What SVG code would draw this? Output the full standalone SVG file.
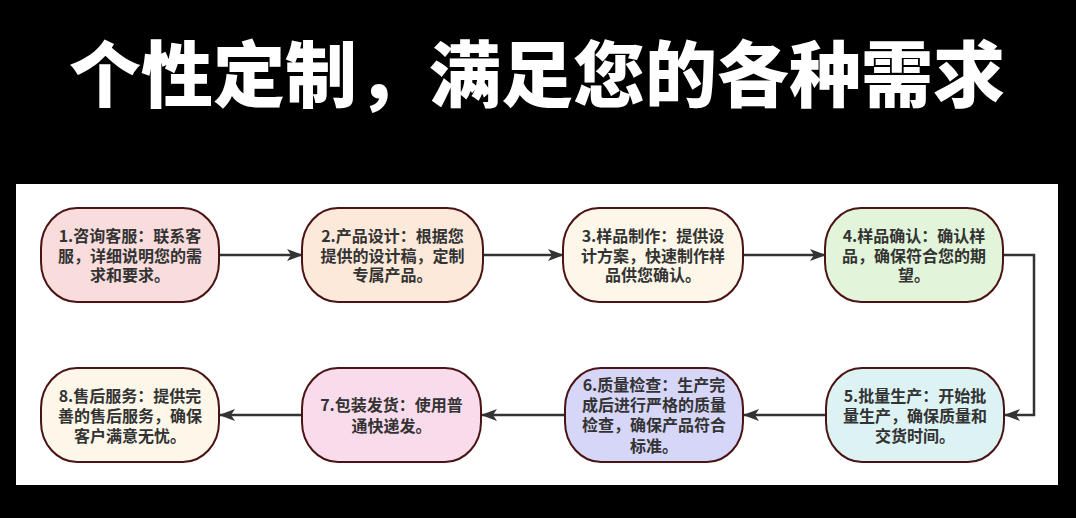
<svg xmlns="http://www.w3.org/2000/svg" width="1076" height="518" viewBox="0 0 1076 518">
<defs>
<marker id="arr" markerWidth="16" markerHeight="12" refX="15" refY="6" orient="auto" markerUnits="userSpaceOnUse">
<path d="M0,0 L16,6 L0,12 L4,6 Z" fill="#333"/>
</marker>
<style>
.box{stroke:#4a1414;stroke-width:2}
.t{font-family:"Noto Sans CJK SC","Noto Sans",sans-serif;font-weight:bold;font-size:16px;fill:#333;text-anchor:middle}
.c{fill:none;stroke:#333;stroke-width:2.5;marker-end:url(#arr)}
.title{font-family:"Noto Sans CJK SC","Noto Sans",sans-serif;font-weight:900;font-size:72px;fill:#fff;text-anchor:middle}
</style>
</defs>
<rect x="0" y="0" width="1076" height="518" fill="#000"/>
<text class="title" x="537" y="101">个性定制，满足您的各种需求</text>
<rect x="16" y="184" width="1042" height="301" fill="#fff"/>
<g id="connectors">
<path class="c" d="M219,255 H302"/>
<path class="c" d="M483,255 H563"/>
<path class="c" d="M743,255 H825"/>
<path class="c" d="M1003,255 H1034 V415 H1005"/>
<path class="c" d="M826,415 H744"/>
<path class="c" d="M565,415 H482"/>
<path class="c" d="M302,415 H220"/>
</g>
<g id="n1"><rect class="box" x="41" y="208" width="178" height="94" rx="36" ry="40" fill="#f9dcdc"/>
<text class="t" x="130"><tspan x="130" y="241.5">1.咨询客服：联系客</tspan><tspan x="130" y="261.5">服，详细说明您的需</tspan><tspan x="130" y="281">求和要求。</tspan></text></g>
<g id="n2"><rect class="box" x="302" y="208" width="181" height="94" rx="36" ry="40" fill="#fce9da"/>
<text class="t" x="392.5"><tspan x="392.5" y="241.5">2.产品设计：根据您</tspan><tspan x="392.5" y="261.5">提供的设计稿，定制</tspan><tspan x="392.5" y="281">专属产品。</tspan></text></g>
<g id="n3"><rect class="box" x="563" y="208" width="180" height="94" rx="36" ry="40" fill="#fcf7e8"/>
<text class="t" x="653"><tspan x="653" y="241.5">3.样品制作：提供设</tspan><tspan x="653" y="261.5">计方案，快速制作样</tspan><tspan x="653" y="281">品供您确认。</tspan></text></g>
<g id="n4"><rect class="box" x="825" y="208" width="178" height="94" rx="36" ry="40" fill="#e2f4d9"/>
<text class="t" x="914"><tspan x="914" y="241.5">4.样品确认：确认样</tspan><tspan x="914" y="261.5">品，确保符合您的期</tspan><tspan x="914" y="281">望。</tspan></text></g>
<g id="n5"><rect class="box" x="826" y="368" width="178" height="94" rx="36" ry="40" fill="#dcf2f3"/>
<text class="t" x="915"><tspan x="915" y="401.5">5.批量生产：开始批</tspan><tspan x="915" y="421.5">量生产，确保质量和</tspan><tspan x="915" y="441.5">交货时间。</tspan></text></g>
<g id="n6"><rect class="box" x="565" y="368" width="178" height="94" rx="36" ry="40" fill="#d6d6f8"/>
<text class="t" x="654"><tspan x="654" y="391">6.质量检查：生产完</tspan><tspan x="654" y="411">成后进行严格的质量</tspan><tspan x="654" y="431">检查，确保产品符合</tspan><tspan x="654" y="452">标准。</tspan></text></g>
<g id="n7"><rect class="box" x="302" y="368" width="179" height="94" rx="36" ry="40" fill="#f9dcec"/>
<text class="t" x="391.5"><tspan x="391.5" y="411">7.包装发货：使用普</tspan><tspan x="391.5" y="432">通快递发。</tspan></text></g>
<g id="n8"><rect class="box" x="41" y="368" width="178" height="94" rx="36" ry="40" fill="#fcf7e8"/>
<text class="t" x="130"><tspan x="130" y="401.5">8.售后服务：提供完</tspan><tspan x="130" y="421.5">善的售后服务，确保</tspan><tspan x="130" y="441.5">客户满意无忧。</tspan></text></g>
</svg>
